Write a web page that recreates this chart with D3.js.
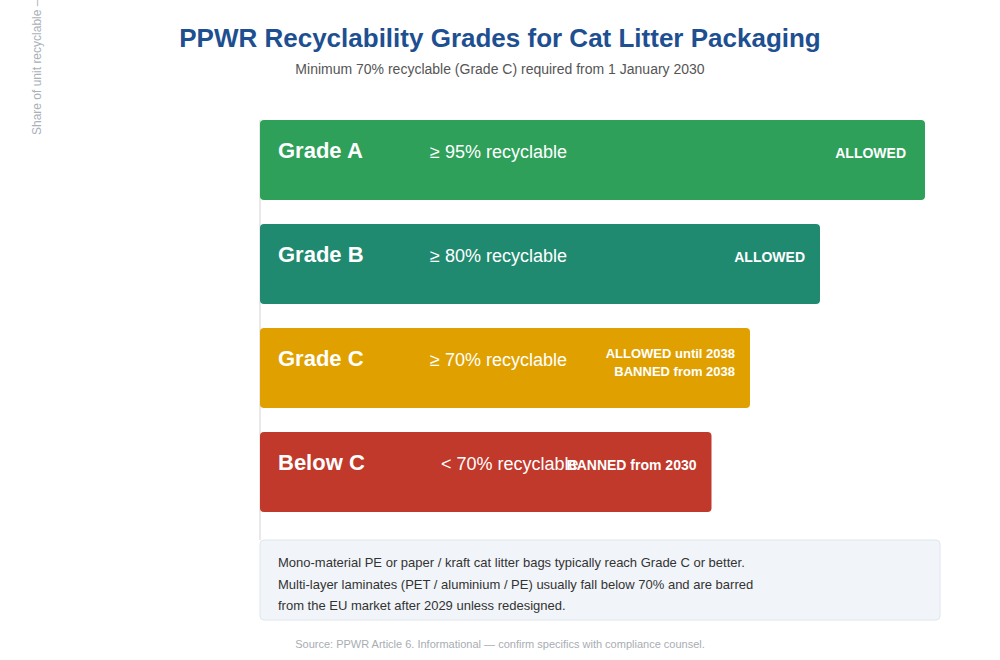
<!DOCTYPE html>
<html>
<head>
<meta charset="utf-8">
<script src="https://cdn.jsdelivr.net/npm/d3@7"></script>
<style>
  body { margin: 0; background: #fff; }
  svg { display: block; font-family: "Liberation Sans", Arial, sans-serif; }
</style>
</head>
<body>
<div id="chart"></div>
<script>
// grades, thresholds and bar lengths (share of unit recyclable)
const grades = ['Grade A', 'Grade B', 'Grade C', 'Below C']
const barValues = [95, 80, 70, 64.5]
const thresholdLabels = ['≥ 95% recyclable', '≥ 80% recyclable', '≥ 70% recyclable', '< 70% recyclable']
const statusLabels = [['ALLOWED'], ['ALLOWED'], ['ALLOWED until 2038', 'BANNED from 2038'], ['BANNED from 2030']]
const gradeColors = ['#2ea05a', '#1f8a70', '#e0a100', '#c0392b']
const noteLines = [
  'Mono-material PE or paper / kraft cat litter bags typically reach Grade C or better.',
  'Multi-layer laminates (PET / aluminium / PE) usually fall below 70% and are barred',
  'from the EU market after 2029 unless redesigned.'
]

let width = 1000
let height = 660
let left = 260

let svg = d3.select('#chart')
  .append('svg')
    .attr('width', width)
    .attr('height', height)

let x = d3.scaleLinear().domain([0, 100]).range([left, left + 700])
let y = d3.scaleBand().domain(grades).range([120, 512]).paddingInner(0.231).paddingOuter(0)

// title block
svg.append('text')
  .attr('x', width / 2).attr('y', 47)
  .attr('text-anchor', 'middle')
  .style('font-size', '26px').style('font-weight', 'bold')
  .style('fill', '#1d4f91')
  .text('PPWR Recyclability Grades for Cat Litter Packaging')

svg.append('text')
  .attr('x', width / 2).attr('y', 74)
  .attr('text-anchor', 'middle')
  .style('font-size', '14px').style('fill', '#555')
  .text('Minimum 70% recyclable (Grade C) required from 1 January 2030')

// axis label, runs off the top edge as in the original
svg.append('text')
  .attr('transform', 'translate(41,135) rotate(-90)')
  .style('font-size', '12px').style('fill', '#aab0b8')
  .text('Share of unit recyclable — higher is better')

// faint baseline
svg.append('line')
  .attr('x1', left).attr('x2', left)
  .attr('y1', 120).attr('y2', 540)
  .style('stroke', '#e2e2e2').style('stroke-width', 1.5)

let rows = svg.selectAll('g.row')
  .data(grades)
  .enter()
  .append('g')
    .attr('class', 'row')
    .attr('transform', d => `translate(0,${y(d)})`)

rows.append('rect')
  .attr('x', x(0))
  .attr('width', (d, i) => x(barValues[i]) - x(0))
  .attr('height', y.bandwidth())
  .attr('rx', 4)
  .style('fill', (d, i) => gradeColors[i])

rows.append('text')
  .attr('x', x(0) + 18).attr('y', 38)
  .style('font-size', '22px').style('font-weight', 'bold').style('fill', '#fff')
  .text(d => d)

rows.append('text')
  .attr('x', (d, i) => i === 3 ? x(0) + 181 : x(0) + 170)
  .attr('y', 38)
  .style('font-size', '18px').style('fill', '#fff')
  .text((d, i) => thresholdLabels[i])

rows.each(function(d, i) {
  let lines = statusLabels[i]
  let t = d3.select(this).append('text')
    .attr('text-anchor', 'end')
    .style('font-weight', 'bold').style('fill', '#fff')
    .style('font-size', lines.length > 1 ? '13px' : '14px')
  lines.forEach((s, j) => {
    t.append('tspan')
      .attr('x', x(barValues[i]) - (i === 0 ? 19 : 15))
      .attr('y', lines.length > 1 ? 30 + j * 18 : 38)
      .text(s)
  })
})

// note box
svg.append('rect')
  .attr('x', left).attr('y', 540)
  .attr('width', 680).attr('height', 80)
  .attr('rx', 4)
  .style('fill', '#f1f5f9').style('stroke', '#dfe6ec')

svg.selectAll('text.note')
  .data(noteLines)
  .enter()
  .append('text')
    .attr('class', 'note')
    .attr('x', left + 18)
    .attr('y', (d, i) => 567 + i * 21.5)
    .style('font-size', '13px').style('fill', '#333')
    .text(d => d)

svg.append('text')
  .attr('x', width / 2).attr('y', 648)
  .attr('text-anchor', 'middle')
  .style('font-size', '11px').style('fill', '#a8adb3')
  .text('Source: PPWR Article 6. Informational — confirm specifics with compliance counsel.')
</script>
</body>
</html>
